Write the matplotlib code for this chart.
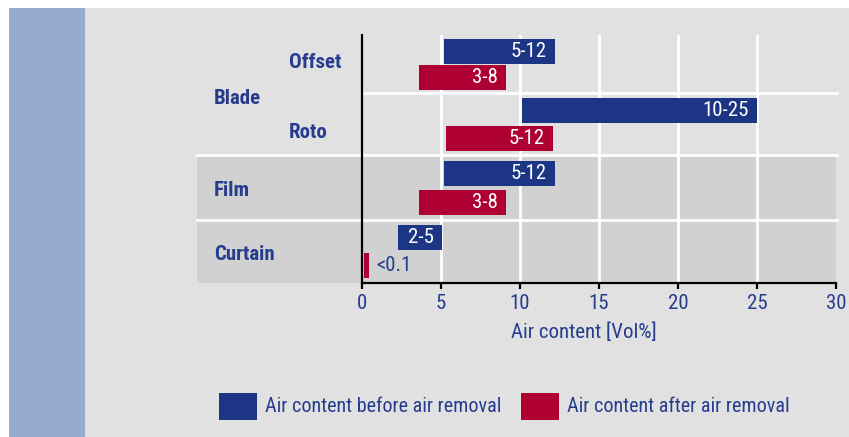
import matplotlib
matplotlib.use('Agg')
import matplotlib.pyplot as plt
from matplotlib.patches import Rectangle
import matplotlib.transforms as mtransforms
from matplotlib import font_manager as fm

# ---------------- data ----------------
rows = ['Offset', 'Roto', 'Film', 'Curtain']
row_groups = ['Blade', 'Blade', 'Film', 'Curtain']
before_lo = [5.2, 10.1, 5.2, 2.25]
before_hi = [12.2, 25.0, 12.2, 5.05]
after_lo = [3.6, 5.3, 3.6, 0.1]
after_hi = [9.1, 12.1, 9.1, 0.45]
before_labels = ['5-12', '10-25', '5-12', '2-5']
after_labels = ['3-8', '5-12', '3-8', '<0.1']
tick_values = [0, 5, 10, 15, 20, 25, 30]
x_label = 'Air content [Vol%]'
legend_labels = ['Air content before air removal', 'Air content after air removal']

# ---------------- font choice (prefer a condensed sans) ----------------
pref = ['Liberation Sans Narrow', 'Nimbus Sans Narrow', 'Arial Narrow',
        'Roboto Condensed', 'Noto Sans Condensed', 'Noto Sans', 'Roboto',
        'Open Sans Condensed', 'Open Sans', 'DejaVu Sans Condensed', 'DejaVu Sans']
stretch_rank = {'condensed': 0, 'semi-condensed': 1, 'extra-condensed': 2}
best = None
for f in fm.fontManager.ttflist:
    st = f.stretch if isinstance(f.stretch, str) else 'normal'
    cond = ('Narrow' in f.name) or ('Condensed' in f.name) or ('condensed' in st)
    if not cond:
        continue
    p = pref.index(f.name) if f.name in pref else len(pref)
    s = stretch_rank.get(st, 0)
    key = (p, s)
    if best is None or key < best[0]:
        best = (key, f.name, st)

if best is not None:
    plt.rcParams['font.family'] = [best[1], 'DejaVu Sans']
    plt.rcParams['font.stretch'] = best[2] if best[2] in stretch_rank else 'normal'
    FS = 15
else:
    plt.rcParams['font.family'] = ['Liberation Sans', 'DejaVu Sans']
    FS = 13

# ---------------- style / layout ----------------
BLUE = '#1d3585'
RED = '#ae0032'
TXT = '#263c8e'
BG = '#e1e1e1'
BAND = '#d1d1d1'
STRIP = '#99aad1'
band_edges = [0, 58, 120, 185, 248]   # row band boundaries (layout units)
sub_label_frac = [0.23, 0.81]         # vertical placement of sub-row labels in a group
BAR_H = 25

W, H = 849, 437
fig = plt.figure(figsize=(W / 100, H / 100), dpi=100)
fig.patch.set_facecolor('white')
fig.add_artist(Rectangle((9 / W, 0), (85 - 9) / W, (H - 8) / H,
                         transform=fig.transFigure, color=STRIP, lw=0, zorder=-2))
fig.add_artist(Rectangle((85 / W, 0), (W - 85) / W, (H - 8) / H,
                         transform=fig.transFigure, color=BG, lw=0, zorder=-2))

ax = fig.add_axes([362 / W, 1 - 283 / H, 474 / W, 248 / H])
ax.set_facecolor('none')
ax.set_xlim(tick_values[0], tick_values[-1])
ax.set_ylim(band_edges[-1], band_edges[0])

LEFT_BAND = -0.348

# bands for single-row groups
for i, (r, g) in enumerate(zip(rows, row_groups)):
    if row_groups.count(g) == 1:
        ax.axhspan(band_edges[i], band_edges[i + 1], xmin=LEFT_BAND, xmax=1,
                   color=BAND, lw=0, zorder=0.5, clip_on=False)

# vertical grid
for v in tick_values[1:-1]:
    ax.axvline(v, color='white', lw=2, zorder=1)

# horizontal separators
for i in range(1, len(rows)):
    same_group = row_groups[i] == row_groups[i - 1]
    ax.axhline(band_edges[i], xmin=0 if same_group else LEFT_BAND, xmax=1.002,
               color='white', lw=2, zorder=1, clip_on=False)

# bars
for i in range(len(rows)):
    top = band_edges[i]
    h = band_edges[i + 1] - band_edges[i]
    yb = top + 0.28 * h
    ya = top + 0.73 * h
    for y, lo, hi, lab, col in [(yb, before_lo[i], before_hi[i], before_labels[i], BLUE),
                                (ya, after_lo[i], after_hi[i], after_labels[i], RED)]:
        ax.barh(y, hi - lo, left=lo, height=BAR_H, color=col, lw=0, zorder=2)
        if hi - lo > 1.5:
            ax.annotate(lab, (hi, y), xytext=(-6, 0), textcoords='offset points',
                        ha='right', va='center', color='white', fontsize=FS, zorder=3)
        else:
            ax.annotate(lab, (hi, y), xytext=(5, 0), textcoords='offset points',
                        ha='left', va='center', color=TXT, fontsize=FS, zorder=3)

# category labels
trans = mtransforms.blended_transform_factory(ax.transAxes, ax.transData)
seen = []
for i, g in enumerate(row_groups):
    if g in seen:
        continue
    seen.append(g)
    idx = [k for k, gg in enumerate(row_groups) if gg == g]
    y0 = band_edges[idx[0]]
    y1 = band_edges[idx[-1] + 1]
    ax.text(-0.312, (y0 + y1) / 2 + 3, g, transform=trans, ha='left', va='center',
            color=TXT, fontsize=FS, fontweight='bold', clip_on=False)
    if len(idx) > 1:
        for n, k in enumerate(idx):
            ax.text(-0.154, y0 + sub_label_frac[n] * (y1 - y0), rows[k],
                    transform=trans, ha='left', va='center', color=TXT,
                    fontsize=FS, fontweight='bold', clip_on=False)

# axes styling
for s in ['top', 'right']:
    ax.spines[s].set_visible(False)
for s in ['left', 'bottom']:
    ax.spines[s].set_color('black')
    ax.spines[s].set_linewidth(1.6)
    ax.spines[s].set_zorder(4)
ax.set_xticks(tick_values)
ax.set_xticklabels([str(t) for t in tick_values])
ax.set_yticks([])
ax.tick_params(axis='x', length=4, width=1.6, color='black', labelcolor=TXT,
               labelsize=FS, pad=4)
ax.set_xlabel(x_label, color=TXT, fontsize=FS)
ax.xaxis.set_label_coords(0.469, -0.198)
ax.xaxis.label.set_va('center')

# legend
for j, (lab, col) in enumerate(zip(legend_labels, [BLUE, RED])):
    x0 = [219, 521][j]
    fig.add_artist(Rectangle((x0 / W, 1 - 420 / H), 38 / W, 27 / H,
                             transform=fig.transFigure, color=col, lw=0))
    fig.text((x0 + 46) / W, 1 - 407 / H, lab, ha='left', va='center',
             color=TXT, fontsize=FS - 0.5)

fig.savefig('out.png', dpi=100, facecolor='white')
